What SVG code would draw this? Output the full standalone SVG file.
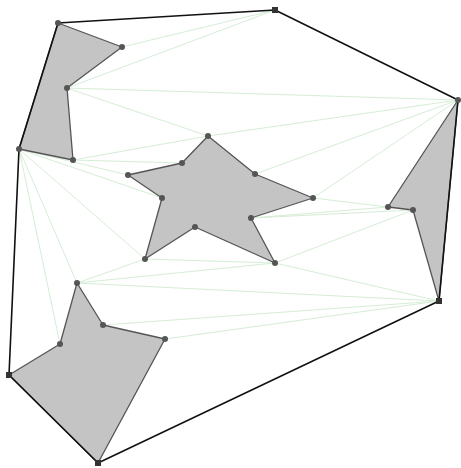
<svg xmlns="http://www.w3.org/2000/svg" width="461" height="468" viewBox="0 0 461 468">
<style>
.vis{stroke:#d6edd6;stroke-width:1;fill:none}
.hull{stroke:#111;stroke-width:1.6;fill:none;stroke-linejoin:round}
.obs{fill:#c4c4c4;stroke:#555;stroke-width:1.3;stroke-linejoin:round}
.v{fill:#555}
.sq{fill:#333}
</style>
<rect width="461" height="468" fill="#fff"/>
<g id="connectors">
<line class="vis" x1="275" y1="10" x2="122" y2="47"/>
<line class="vis" x1="275" y1="10" x2="67" y2="88"/>
<line class="vis" x1="67" y1="88" x2="458" y2="100"/>
<line class="vis" x1="67" y1="88" x2="208" y2="136"/>
<line class="vis" x1="458" y1="100" x2="208" y2="136"/>
<line class="vis" x1="458" y1="100" x2="255" y2="174"/>
<line class="vis" x1="458" y1="100" x2="313" y2="198"/>
<line class="vis" x1="73" y1="160" x2="208" y2="136"/>
<line class="vis" x1="73" y1="160" x2="182" y2="163"/>
<line class="vis" x1="19" y1="149" x2="128" y2="175"/>
<line class="vis" x1="19" y1="149" x2="162" y2="198"/>
<line class="vis" x1="19" y1="149" x2="145" y2="259"/>
<line class="vis" x1="19" y1="149" x2="77" y2="283"/>
<line class="vis" x1="19" y1="149" x2="60" y2="344"/>
<line class="vis" x1="77" y1="283" x2="145" y2="259"/>
<line class="vis" x1="77" y1="283" x2="275" y2="263"/>
<line class="vis" x1="77" y1="283" x2="439" y2="301"/>
<line class="vis" x1="145" y1="259" x2="275" y2="263"/>
<line class="vis" x1="275" y1="263" x2="439" y2="301"/>
<line class="vis" x1="275" y1="263" x2="413" y2="210"/>
<line class="vis" x1="313" y1="198" x2="388" y2="207"/>
<line class="vis" x1="251" y1="218" x2="388" y2="207"/>
<line class="vis" x1="251" y1="218" x2="413" y2="210"/>
<line class="vis" x1="103" y1="325" x2="439" y2="301"/>
<line class="vis" x1="165" y1="339" x2="439" y2="301"/>
</g>
<g id="obstacle-top-left">
<polygon class="obs" points="58,23 122,47 67,88 73,160 19,149"/>
</g>
<g id="obstacle-star">
<polygon class="obs" points="208,136 255,174 313,198 251,218 275,263 195,227 145,259 162,198 128,175 182,163"/>
</g>
<g id="obstacle-right">
<polygon class="obs" points="458,100 439,301 413,210 388,207"/>
</g>
<g id="obstacle-bottom-left">
<polygon class="obs" points="77,283 103,325 165,339 98,463 9,375 60,344"/>
</g>
<g id="hull">
<polygon class="hull" points="58,23 275,10 458,100 439,301 98,463 9,375 19,149"/>
</g>
<g id="vertices">
<circle class="v" cx="58" cy="23" r="3"/>
<circle class="v" cx="122" cy="47" r="3"/>
<circle class="v" cx="67" cy="88" r="3"/>
<circle class="v" cx="73" cy="160" r="3"/>
<circle class="v" cx="19" cy="149" r="3"/>
<circle class="v" cx="208" cy="136" r="3"/>
<circle class="v" cx="255" cy="174" r="3"/>
<circle class="v" cx="313" cy="198" r="3"/>
<circle class="v" cx="251" cy="218" r="3"/>
<circle class="v" cx="275" cy="263" r="3"/>
<circle class="v" cx="195" cy="227" r="3"/>
<circle class="v" cx="145" cy="259" r="3"/>
<circle class="v" cx="162" cy="198" r="3"/>
<circle class="v" cx="128" cy="175" r="3"/>
<circle class="v" cx="182" cy="163" r="3"/>
<circle class="v" cx="458" cy="100" r="3"/>
<circle class="v" cx="388" cy="207" r="3"/>
<circle class="v" cx="413" cy="210" r="3"/>
<circle class="v" cx="77" cy="283" r="3"/>
<circle class="v" cx="103" cy="325" r="3"/>
<circle class="v" cx="165" cy="339" r="3"/>
<circle class="v" cx="60" cy="344" r="3"/>
<rect class="sq" x="272" y="7" width="6" height="6"/>
<rect class="sq" x="436" y="298" width="6" height="6"/>
<rect class="sq" x="95" y="460" width="6" height="6"/>
<rect class="sq" x="6" y="372" width="6" height="6"/>
</g>
</svg>
